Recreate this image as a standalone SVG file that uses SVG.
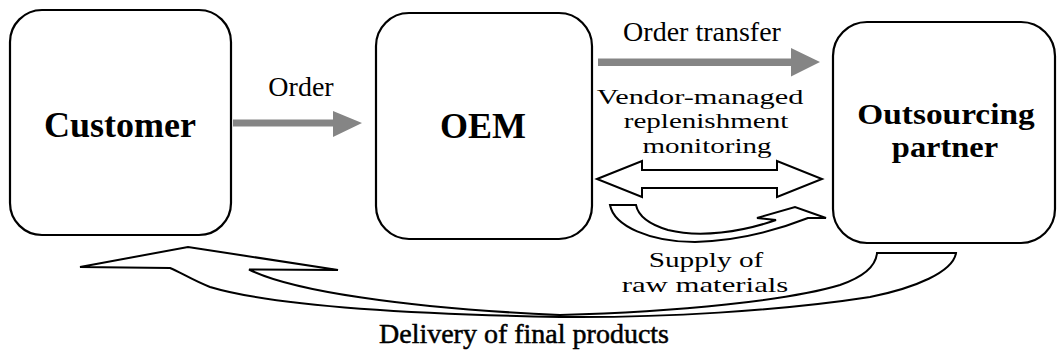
<svg xmlns="http://www.w3.org/2000/svg" width="1058" height="357" viewBox="0 0 1058 357">
<style>
.box{fill:#fff;stroke:#000;stroke-width:2.2}
.node{font-family:"Liberation Serif","Times New Roman",serif;font-weight:bold;font-size:36px;text-anchor:middle;fill:#000}
.node2{font-family:"Liberation Serif","Times New Roman",serif;font-weight:bold;font-size:29px;text-anchor:middle;fill:#000}
.lbl{font-family:"Liberation Serif","Times New Roman",serif;font-size:28px;text-anchor:middle;fill:#000}
.sm{font-size:22px}
.grey{fill:#858585;stroke:none}
.hollow{fill:#fff;stroke:#000;stroke-width:2;stroke-linejoin:miter}
</style>
<rect width="1058" height="357" fill="#fff"/>
<g id="connectors">
  <path id="order" class="grey" d="M233,119.5 L333,119.5 L333,111 L362,123 L333,137 L333,126.5 L233,126.5 Z"/>
  <path id="order-transfer" class="grey" d="M598,58.5 L791,58.5 L791,48 L820,62 L791,76.5 L791,66 L598,66 Z"/>
  <path id="vmr" class="hollow" d="M597,179 L642,161 L642,170 L777,170 L777,161 L822,179 L777,197 L777,188 L642,188 L642,197 Z"/>
  <path id="supply" class="hollow" d="M610,205 L636,205 C638,215 648,224 668,230 C700,238 742,232 776,220 L757,218 L795,207 L826,218 L808,218 C780,229 740,241 695,242 C650,242 614,226 610,205 Z"/>
  <path id="delivery" class="hollow" d="M80,267 L188,247 L338,270 L249,269.5 C290,290 400,308 560,315 C680,312 790,300 840,285 C866,276 876,265 877,253 L956,253 C953,272 915,288 870,297 C780,311 660,318 560,317 C400,314 270,305 210,287 C192,280 180,272 170,268 Z"/>
  <text class="lbl" x="301" y="96">Order</text>
  <text class="lbl" x="702" y="41">Order transfer</text>
  <text class="lbl sm" transform="translate(700,103.5) scale(1.38,1)">Vendor-managed</text>
  <text class="lbl sm" transform="translate(706,128) scale(1.32,1)">replenishment</text>
  <text class="lbl sm" transform="translate(707,152.5) scale(1.32,1)">monitoring</text>
  <text class="lbl sm" transform="translate(706,267) scale(1.33,1)">Supply of</text>
  <text class="lbl sm" transform="translate(705,291.5) scale(1.4,1)">raw materials</text>
  <text class="lbl" x="524" y="343" stroke="#000" stroke-width="0.5">Delivery of final products</text>
</g>
<g id="customer">
  <rect class="box" x="10" y="10" width="221" height="225" rx="32" ry="32"/>
  <text class="node" x="120" y="137">Customer</text>
</g>
<g id="oem">
  <rect class="box" x="376" y="13" width="216" height="226" rx="33" ry="33"/>
  <text class="node" x="483" y="138">OEM</text>
</g>
<g id="outsourcing-partner">
  <rect class="box" x="833" y="22" width="222" height="221" rx="34" ry="34"/>
  <text class="node2" transform="translate(946,124) scale(1.15,1)">Outsourcing</text>
  <text class="node2" transform="translate(945,156.5) scale(1.12,1)">partner</text>
</g>
</svg>
